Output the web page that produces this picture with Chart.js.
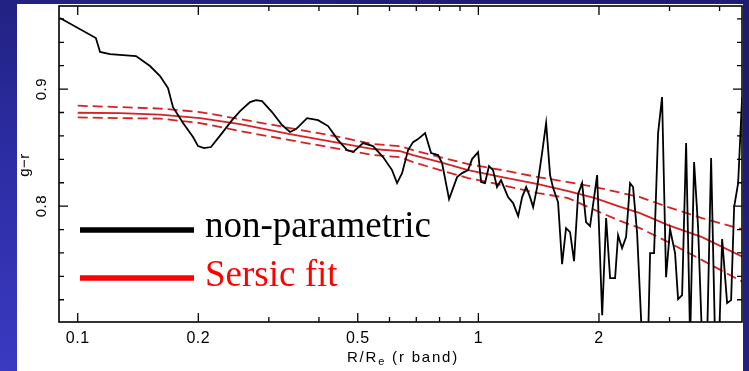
<!DOCTYPE html>
<html>
<head>
<meta charset="utf-8">
<script src="https://cdn.jsdelivr.net/npm/chart.js@4.4.0/dist/chart.umd.min.js"></script>
<style>
  html, body { margin: 0; padding: 0; width: 749px; height: 371px; overflow: hidden;
    background: radial-gradient(ellipse at 0% 100%, #3a3ac2 0%, #2b2ba0 45%, #1c1c72 85%); }
  canvas { display: block; }
</style>
</head>
<body>
<canvas id="c" width="749" height="371"></canvas>
<script>
// --- data ---
const radius = [0.0903, 0.111, 0.1137, 0.1204, 0.1398, 0.1515, 0.1605, 0.168, 0.1729, 0.1832,
  0.194, 0.1997, 0.2067, 0.2151, 0.2292, 0.2428, 0.2542, 0.2692, 0.2787, 0.2885,
  0.3055, 0.3236, 0.3388, 0.3508, 0.3736, 0.398, 0.4216, 0.4465, 0.4701, 0.4867,
  0.5155, 0.5459, 0.5782, 0.6089, 0.6267, 0.645, 0.6677, 0.6871, 0.7072, 0.7362,
  0.762, 0.7933, 0.8117, 0.8451, 0.8848, 0.9106, 0.9426, 0.9645, 0.9984, 1.016,
  1.039, 1.063, 1.088, 1.113, 1.139, 1.186, 1.221, 1.257, 1.286, 1.316,
  1.346, 1.370, 1.402, 1.442, 1.476, 1.510, 1.537, 1.581, 1.618, 1.655,
  1.694, 1.733, 1.774, 1.815, 1.857, 1.900, 1.945, 1.979, 2.037, 2.084,
  2.132, 2.194, 2.232, 2.284, 2.337, 2.391, 2.433, 2.490, 2.562, 2.652,
  2.683, 2.745, 2.809, 2.874, 2.941, 3.009, 3.097, 3.151, 3.225, 3.300,
  3.377, 3.455, 3.535, 3.617, 3.723, 3.810, 3.898, 3.989, 4.059, 4.177,
  4.274, 4.349, 4.450, 4.553, 4.66];
const colour = [0.9607, 0.9436, 0.9317, 0.9299, 0.9282, 0.9197, 0.9111, 0.9009, 0.8846, 0.8710,
  0.8590, 0.8513, 0.8496, 0.8505, 0.8624, 0.8735, 0.8812, 0.8889, 0.8906, 0.8898,
  0.8804, 0.8693, 0.8633, 0.8658, 0.8752, 0.8735, 0.8684, 0.8564, 0.8479, 0.8462,
  0.8539, 0.8513, 0.8419, 0.8308, 0.8197, 0.8282, 0.8479, 0.8547, 0.8573, 0.8624,
  0.8453, 0.8436, 0.8368, 0.8060, 0.8248, 0.8282, 0.8308, 0.8402, 0.8462, 0.8205,
  0.8197, 0.8342, 0.8308, 0.8163, 0.8223, 0.8077, 0.8026, 0.7915, 0.8077, 0.8163,
  0.8077, 0.7992, 0.8163, 0.8453, 0.8710, 0.8265, 0.8154, 0.8034, 0.7505, 0.7812,
  0.7778, 0.7530, 0.8103, 0.8197, 0.7864, 0.7829, 0.8077, 0.8265, 0.7069, 0.7898,
  0.7385, 0.7385, 0.7752, 0.7641, 0.7735, 0.8197, 0.8163, 0.7770, 0.6855, 0.6855,
  0.7599, 0.7599, 0.8624, 0.8932, 0.7393, 0.7804, 0.7599, 0.7205, 0.7240, 0.8539,
  0.6855, 0.8376, 0.7821, 0.6855, 0.6855, 0.8411, 0.6855, 0.6855, 0.7718, 0.7171,
  0.7197, 0.7992, 0.8197, 0.8932, 0.9248];

// Sersic fit and its upper / lower envelope
const fitRadius = [0.100, 0.1275, 0.1605, 0.202, 0.2542, 0.3388, 0.4516, 0.5459, 0.6376, 0.6871,
  0.8024, 0.9426, 1.146, 1.409, 1.675, 1.956, 2.232, 2.532, 2.976, 3.617, 4.632];
const fitMid = [0.8798, 0.8795, 0.8782, 0.8752, 0.8701, 0.8616, 0.8539, 0.8488, 0.8470, 0.8436,
  0.8376, 0.8308, 0.8248, 0.8188, 0.8129, 0.8069, 0.8000, 0.7940, 0.7838, 0.7735, 0.7556];
const fitHigh = [0.8858, 0.8846, 0.8834, 0.8804, 0.8744, 0.8667, 0.8590, 0.8530, 0.8513, 0.8479,
  0.8419, 0.8359, 0.8308, 0.8248, 0.8205, 0.8163, 0.8120, 0.8077, 0.7992, 0.7898, 0.7795];
const fitLow = [0.8758, 0.8752, 0.8748, 0.8710, 0.8641, 0.8564, 0.8488, 0.8436, 0.8419, 0.8376,
  0.8308, 0.8240, 0.8180, 0.8111, 0.8069, 0.7966, 0.7881, 0.7812, 0.7693, 0.7539, 0.7342];

// axes
const xLabels = [0.1, 0.2, 0.5, 1, 2];
const xMinor = [0.3, 0.4, 0.6, 0.7, 0.8, 0.9, 3, 4];
const yLabels = [0.8, 0.9];
const yMinor = [0.72, 0.74, 0.76, 0.78, 0.82, 0.84, 0.86, 0.88, 0.92, 0.94, 0.96];

const pts = (xs, ys) => xs.map((v, i) => ({ x: v, y: ys[i] }));

// --- frame, ticks, labels, legend ---
const frame = {
  id: 'frame',
  beforeDraw(chart) {
    const { ctx, chartArea: a } = chart;
    ctx.save();
    ctx.fillStyle = '#fff';
    ctx.fillRect(17, 4, a.right + 1 - 17, chart.height - 4);
    ctx.restore();
  },
  afterDraw(chart) {
    const { ctx, chartArea: a, scales: { x, y } } = chart;
    ctx.save();
    ctx.strokeStyle = '#000';
    ctx.lineWidth = 1.6;
    ctx.strokeRect(a.left, a.top, a.right - a.left, a.bottom - a.top);

    ctx.lineWidth = 1.3;
    ctx.beginPath();
    const xt = (v, len) => {
      const p = x.getPixelForValue(v);
      ctx.moveTo(p, a.bottom); ctx.lineTo(p, a.bottom - len);
      ctx.moveTo(p, a.top); ctx.lineTo(p, a.top + len);
    };
    const yt = (v, len) => {
      const p = y.getPixelForValue(v);
      ctx.moveTo(a.left, p); ctx.lineTo(a.left + len, p);
      ctx.moveTo(a.right, p); ctx.lineTo(a.right - len, p);
    };
    xLabels.forEach(v => xt(v, 9));
    xMinor.forEach(v => xt(v, 5));
    yLabels.forEach(v => yt(v, 9));
    yMinor.forEach(v => yt(v, 5));
    ctx.stroke();

    // tick labels
    ctx.fillStyle = '#000';
    ctx.font = '16px "Liberation Sans", Arial, sans-serif';
    ctx.letterSpacing = '0.5px';
    ctx.textAlign = 'center';
    ctx.textBaseline = 'middle';
    xLabels.forEach(v => ctx.fillText(String(v), x.getPixelForValue(v), 339));
    ctx.font = '15px "Liberation Sans", Arial, sans-serif';
    yLabels.forEach(v => {
      ctx.save();
      ctx.translate(42, y.getPixelForValue(v));
      ctx.rotate(-Math.PI / 2);
      ctx.fillText(v.toFixed(1), 0, 0);
      ctx.restore();
    });
    ctx.save();
    ctx.translate(25, 165);
    ctx.rotate(-Math.PI / 2);
    ctx.fillText('g\u2212r', 0, 0);
    ctx.restore();

    // x title with subscript
    const big = '15px "Liberation Sans", Arial, sans-serif';
    const small = '11px "Liberation Sans", Arial, sans-serif';
    ctx.letterSpacing = '1.8px';
    ctx.textAlign = 'left';
    ctx.font = big;
    const w1 = ctx.measureText('R/R').width;
    const w3 = ctx.measureText(' (r band)').width;
    ctx.font = small;
    const w2 = ctx.measureText('e').width;
    let cx = 403 - (w1 + w2 + w3) / 2;
    ctx.font = big; ctx.fillText('R/R', cx, 358); cx += w1;
    ctx.font = small; ctx.fillText('e', cx, 362); cx += w2;
    ctx.font = big; ctx.fillText(' (r band)', cx, 358);
    ctx.letterSpacing = '0px';

    // legend
    ctx.lineWidth = 5.5;
    ctx.strokeStyle = '#000';
    ctx.beginPath(); ctx.moveTo(80, 230); ctx.lineTo(194, 230); ctx.stroke();
    ctx.strokeStyle = '#ff0000';
    ctx.beginPath(); ctx.moveTo(80, 278); ctx.lineTo(194, 278); ctx.stroke();
    ctx.font = '37px "Liberation Serif", "Times New Roman", serif';
    ctx.textBaseline = 'alphabetic';
    ctx.fillStyle = '#000';
    ctx.fillText('non-parametric', 205, 237);
    ctx.fillStyle = '#ff0000';
    ctx.fillText('Sersic fit', 205, 286);
    ctx.restore();
  }
};

const fitStyle = { borderColor: '#d62222', borderWidth: 1.8, pointRadius: 0, tension: 0, clip: 0 };

new Chart(document.getElementById('c'), {
  type: 'line',
  data: {
    datasets: [
      { label: 'non-parametric', data: pts(radius, colour), borderColor: '#000', borderWidth: 1.8,
        pointRadius: 0, tension: 0, clip: 0 },
      { label: 'Sersic fit', data: pts(fitRadius, fitMid), ...fitStyle },
      { label: 'upper', data: pts(fitRadius, fitHigh), ...fitStyle, borderDash: [10, 5] },
      { label: 'lower', data: pts(fitRadius, fitLow), ...fitStyle, borderDash: [10, 5] }
    ]
  },
  options: {
    responsive: false,
    animation: false,
    events: [],
    layout: { padding: { left: 59, top: 6, right: 7, bottom: 49 } },
    plugins: { legend: { display: false }, tooltip: { enabled: false } },
    scales: {
      x: { type: 'logarithmic', min: 0.0898, max: 4.55, display: false },
      y: { type: 'linear', min: 0.701, max: 0.971, display: false }
    }
  },
  plugins: [frame]
});
</script>
</body>
</html>
